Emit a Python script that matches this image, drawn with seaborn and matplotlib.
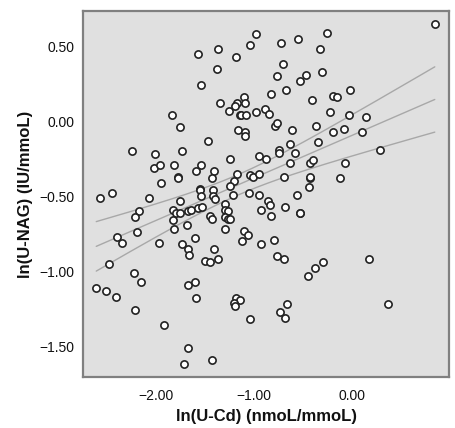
import numpy as np
import pandas as pd
import matplotlib
matplotlib.use("Agg")
import matplotlib.pyplot as plt
import seaborn as sns

# ln(U-Cd) values (x) and ln(U-NAG) values (y)
ln_ucd = [
    -0.98, -1.04, -1.37, -1.57, -1.19, -1.38, -1.54, -0.83, -1.10, -1.35,
    -1.18, -1.20, -1.09, -1.26, -1.15, -1.13, -1.08, -0.98, -0.89, -0.85,
    -1.84, -1.76, -1.17, -1.09, -1.09, -1.47, -0.79, -0.77, 0.84, -0.26,
    -0.55, -0.73, -0.33, -0.71, -0.77, -0.47, -0.53, -0.31, -0.68, -0.02,
    -0.41, -0.20, -0.16, -0.23, -0.03, 0.14, -0.62, -0.37, -0.20, -0.09,
    0.10, -0.35, -0.64, -0.75, -0.75, -0.58, 0.28, -0.95, -0.88, -0.64,
    -0.43, -0.40, -0.07, -0.70, -0.43, -0.43, -0.13, -0.44, -0.56, -2.25,
    -2.01, -1.74, -1.25, -2.02, -1.96, -1.82, -1.54, -1.59, -1.41, -1.78,
    -1.78, -1.18, -1.95, -1.43, -1.21, -1.25, -1.04, -1.01, -0.95, -1.55,
    -1.55, -1.42, -1.22, -1.05, -0.95, -2.57, -2.45, -2.07, -1.76, -1.54,
    -1.42, -1.40, -0.86, -0.84, -1.30, -1.30, -1.27, -1.30, -1.27, -1.25,
    -1.30, -0.93, -0.93, -2.17, -2.21, -1.83, -1.80, -1.76, -1.68, -1.64,
    -1.57, -1.53, -1.83, -1.69, -1.82, -1.45, -1.43, -2.19, -2.40, -2.35,
    -1.97, -1.74, -1.67, -1.66, -1.60, -1.41, -1.50, -1.45, -1.37, -1.10,
    -1.06, -1.12, -2.48, -2.23, -2.15, -2.61, -2.51, -2.41, -1.67, -1.60,
    -1.59, -1.19, -1.15, -1.21, -1.20, -2.21, -1.04, -1.92, -1.68, -1.72,
    -1.43, -0.83, -0.69, -0.53, -0.53, -0.80, -0.77, -0.70, -0.45, -0.38,
    -0.30, 0.17, -0.67, -0.74, -0.69, 0.36,
]
ln_unag = [
    0.58, 0.51, 0.48, 0.45, 0.43, 0.35, 0.24, 0.18, 0.16, 0.12,
    0.12, 0.10, 0.12, 0.07, 0.04, 0.04, 0.04, 0.06, 0.08, 0.05,
    0.04, -0.04, -0.06, -0.07, -0.10, -0.13, -0.03, -0.01, 0.65, 0.59,
    0.55, 0.52, 0.48, 0.38, 0.30, 0.31, 0.27, 0.33, 0.21, 0.21,
    0.14, 0.17, 0.16, 0.06, 0.04, 0.03, -0.06, -0.03, -0.07, -0.05,
    -0.07, -0.14, -0.15, -0.19, -0.21, -0.21, -0.19, -0.23, -0.25, -0.28,
    -0.28, -0.26, -0.28, -0.37, -0.38, -0.37, -0.38, -0.44, -0.49, -0.20,
    -0.22, -0.20, -0.25, -0.31, -0.29, -0.29, -0.29, -0.33, -0.33, -0.37,
    -0.38, -0.35, -0.41, -0.38, -0.40, -0.43, -0.36, -0.37, -0.35, -0.45,
    -0.46, -0.46, -0.49, -0.48, -0.49, -0.51, -0.48, -0.51, -0.53, -0.50,
    -0.50, -0.52, -0.53, -0.56, -0.55, -0.59, -0.60, -0.64, -0.65, -0.65,
    -0.72, -0.59, -0.82, -0.60, -0.64, -0.59, -0.61, -0.61, -0.60, -0.59,
    -0.58, -0.57, -0.66, -0.69, -0.72, -0.63, -0.65, -0.74, -0.77, -0.81,
    -0.81, -0.82, -0.85, -0.89, -0.78, -0.85, -0.93, -0.94, -0.92, -0.73,
    -0.76, -0.80, -0.95, -1.01, -1.07, -1.11, -1.13, -1.17, -1.09, -1.07,
    -1.18, -1.18, -1.19, -1.21, -1.23, -1.26, -1.32, -1.36, -1.51, -1.62,
    -1.59, -0.63, -0.57, -0.61, -0.61, -0.79, -0.90, -0.92, -1.03, -0.98,
    -0.94, -0.92, -1.22, -1.27, -1.31, -1.22,
]

x_ticks = [-2.0, -1.0, 0.0]
x_tick_labels = ["\u22122.00", "\u22121.00", "0.00"]
y_ticks = [0.5, 0.0, -0.5, -1.0, -1.5]
y_tick_labels = ["0.50", "0.00", "\u22120.50", "\u22121.00", "\u22121.50"]
x_label = "ln(U-Cd) (nmoL/mmoL)"
y_label = "ln(U-NAG) (IU/mmoL)"

df = pd.DataFrame({"x": ln_ucd, "y": ln_unag})

sns.set_style("white", {"axes.facecolor": "#e0e0e0"})
plt.rcParams["font.family"] = ["Liberation Sans Narrow", "Liberation Sans", "DejaVu Sans"]

fig = plt.figure(figsize=(4.55, 4.28), dpi=100)
ax = fig.add_axes([83 / 455, 1 - 377 / 428, 366 / 455, 366 / 428])

# Linear fit with 95% confidence band of the mean
x = df["x"].to_numpy()
y = df["y"].to_numpy()
n = len(x)
slope, intercept = np.polyfit(x, y, 1)
resid = y - (slope * x + intercept)
s = np.sqrt(np.sum(resid ** 2) / (n - 2))
xbar = x.mean()
sxx = np.sum((x - xbar) ** 2)
xs = np.linspace(x.min(), x.max(), 200)
fit = slope * xs + intercept
half = 1.973 * s * np.sqrt(1 / n + (xs - xbar) ** 2 / sxx)
line_df = pd.DataFrame({"x": np.concatenate([xs, xs, xs]),
                        "y": np.concatenate([fit, fit + half, fit - half]),
                        "g": ["fit"] * len(xs) + ["hi"] * len(xs) + ["lo"] * len(xs)})
sns.lineplot(data=line_df, x="x", y="y", units="g", estimator=None,
             color="#a8a8a8", linewidth=1.0, ax=ax, zorder=2)

sns.scatterplot(data=df, x="x", y="y", ax=ax, marker="o", s=27,
                facecolor="white", edgecolor="#222222", linewidth=1.2,
                zorder=3)

ax.set_xlim(-2.745, 0.985)
ax.set_ylim(-1.705, 0.735)
ax.set_xticks(x_ticks)
ax.set_xticklabels(x_tick_labels)
ax.set_yticks(y_ticks)
ax.set_yticklabels(y_tick_labels)
ax.tick_params(axis="both", direction="out", length=4.3, width=1,
               color="#666666", labelsize=10, labelcolor="#111111")
ax.tick_params(axis="x", pad=4)
ax.tick_params(axis="y", pad=2)
for sp in ax.spines.values():
    sp.set_color("#808080")
    sp.set_linewidth(1.6)
ax.set_xlabel(x_label, fontsize=12, fontweight="bold", color="#111111")
ax.set_ylabel(y_label, fontsize=12, fontweight="bold", color="#111111")
ax.xaxis.set_label_coords(0.5, -0.088)
ax.yaxis.set_label_coords(-0.137, 0.5)

fig.savefig("out.png", dpi=100)
